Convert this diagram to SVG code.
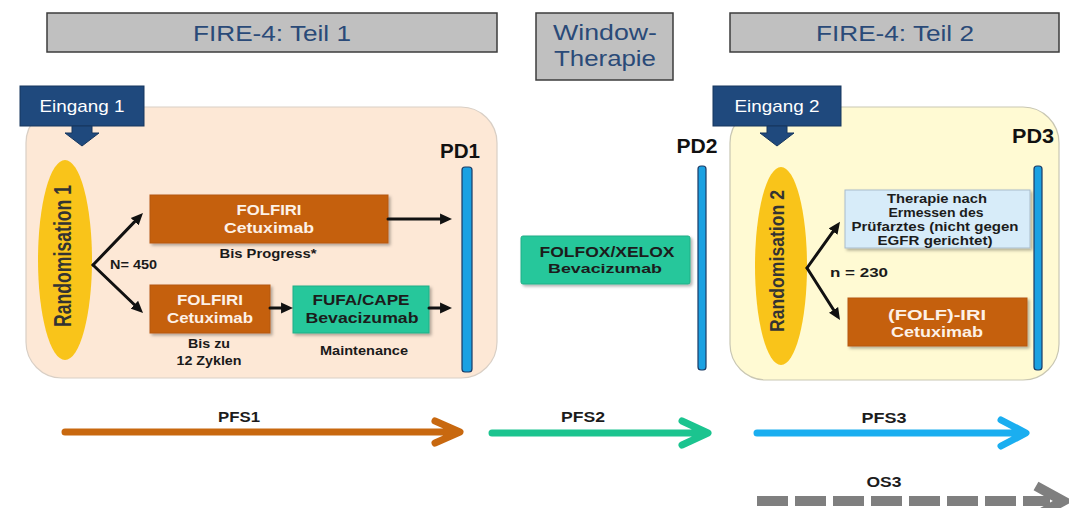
<svg xmlns="http://www.w3.org/2000/svg" width="1069" height="508" viewBox="0 0 1069 508">
<style>
text{font-family:"Liberation Sans",Arial,sans-serif;}
.hdr{fill:#c0c0c0;stroke:#3c3c3c;stroke-width:1.5;}
.hdrt{font-size:22px;fill:#2a4a78;text-anchor:middle;}
.ein{fill:#1f497d;stroke:#17375e;stroke-width:1;}
.eint{font-size:17px;fill:#ffffff;text-anchor:middle;}
.pd{font-size:20px;font-weight:bold;fill:#111;text-anchor:middle;}
.bar{fill:#1ba1e2;stroke:#1b3a64;stroke-width:1.2;}
.org{fill:#c5600f;stroke:#b55810;stroke-width:1;}
.grn{fill:#25c79b;stroke:#1fae87;stroke-width:1;}
.bw{font-size:15px;font-weight:bold;fill:#fdf1e7;text-anchor:middle;}
.bd{font-weight:bold;fill:#1c1c1c;text-anchor:middle;}
.lbl{font-size:12px;font-weight:bold;fill:#1a1a1a;}
.rnd{font-size:18px;font-weight:bold;fill:#333;text-anchor:middle;}
.ell{fill:#f9c41a;}
.conn{stroke:#111;stroke-width:3;fill:none;stroke-linecap:round;}
.pfs{fill:none;stroke-width:7;stroke-linecap:round;stroke-linejoin:round;}
</style>
<defs>
<marker id="ah" viewBox="0 0 10 10" refX="5.8" refY="5" markerWidth="12" markerHeight="12" markerUnits="userSpaceOnUse" orient="auto">
<path d="M0,0.5 L10,5 L0,9.5 z" fill="#111"/>
</marker>
<filter id="sh" x="-10%" y="-10%" width="130%" height="150%">
<feDropShadow dx="2" dy="2" stdDeviation="1.5" flood-color="#000" flood-opacity="0.3"/>
</filter>
</defs>

<g id="header1">
<rect class="hdr" x="47" y="13" width="450" height="39"/>
<text class="hdrt" x="272" y="41" textLength="158" lengthAdjust="spacingAndGlyphs">FIRE-4: Teil 1</text>
</g>
<g id="header-window">
<rect class="hdr" x="536" y="13" width="137" height="67"/>
<text class="hdrt" x="605" y="40" textLength="104" lengthAdjust="spacingAndGlyphs">Window-</text>
<text class="hdrt" x="605" y="66" textLength="102" lengthAdjust="spacingAndGlyphs">Therapie</text>
</g>
<g id="header2">
<rect class="hdr" x="730" y="13" width="329" height="39"/>
<text class="hdrt" x="895" y="41" textLength="158" lengthAdjust="spacingAndGlyphs">FIRE-4: Teil 2</text>
</g>

<g id="panel1">
<rect x="26" y="107" width="471" height="271" rx="36" fill="#fde8d6" stroke="#d9cfc5" stroke-width="1.2"/>
</g>
<g id="panel2">
<rect x="730" y="107" width="329" height="273" rx="36" fill="#fffad3" stroke="#c9c7b3" stroke-width="1.2"/>
</g>

<g id="eingang1">
<rect class="ein" x="20" y="86" width="124" height="40"/>
<path class="ein" d="M72,126 H92 V133 H99 L82,146 L65,133 H72 Z"/>
<text class="eint" x="82" y="112" textLength="85" lengthAdjust="spacingAndGlyphs">Eingang 1</text>
</g>
<g id="eingang2">
<rect class="ein" x="713" y="86" width="128" height="40"/>
<path class="ein" d="M767,126 H787 V133 H794 L777,146 L760,133 H767 Z"/>
<text class="eint" x="777" y="112" textLength="85" lengthAdjust="spacingAndGlyphs">Eingang 2</text>
</g>

<g id="random1">
<ellipse class="ell" cx="65" cy="260" rx="27" ry="100"/>
<text class="rnd" transform="translate(71,256) rotate(-90) scale(1,1.3)" x="0" y="0" textLength="142" lengthAdjust="spacingAndGlyphs">Randomisation 1</text>
</g>
<g id="random2">
<ellipse class="ell" cx="781" cy="266" rx="26" ry="99"/>
<text class="rnd" transform="translate(784,261) rotate(-90) scale(1,1.15)" x="0" y="0" textLength="142" lengthAdjust="spacingAndGlyphs">Randomisation 2</text>
</g>

<g id="folfiri-top">
<rect class="org" x="150" y="195" width="238" height="48" filter="url(#sh)"/>
<text class="bw" x="269" y="215" textLength="65" lengthAdjust="spacingAndGlyphs">FOLFIRI</text>
<text class="bw" x="269" y="233" textLength="90" lengthAdjust="spacingAndGlyphs">Cetuximab</text>
</g>
<g id="folfiri-bottom">
<rect class="org" x="150" y="285" width="120" height="48" filter="url(#sh)"/>
<text class="bw" x="210" y="305" textLength="66" lengthAdjust="spacingAndGlyphs">FOLFIRI</text>
<text class="bw" x="210" y="323" textLength="86" lengthAdjust="spacingAndGlyphs">Cetuximab</text>
</g>
<g id="fufa">
<rect class="grn" x="293" y="286" width="136" height="47" filter="url(#sh)"/>
<text class="bd" font-size="15" x="361" y="305" textLength="97" lengthAdjust="spacingAndGlyphs">FUFA/CAPE</text>
<text class="bd" font-size="15" x="362" y="323" textLength="113" lengthAdjust="spacingAndGlyphs">Bevacizumab</text>
</g>
<g id="folfox">
<rect class="grn" x="521" y="236" width="169" height="48" rx="2" filter="url(#sh)"/>
<text class="bd" font-size="15" x="607" y="257" textLength="135" lengthAdjust="spacingAndGlyphs">FOLFOX/XELOX</text>
<text class="bd" font-size="12" x="605" y="273" textLength="114" lengthAdjust="spacingAndGlyphs">Bevacizumab</text>
</g>
<g id="therapie-pruefarzt">
<rect x="845" y="190" width="185" height="58" fill="#d7ecf9" stroke="#a9bccb" stroke-width="1" filter="url(#sh)"/>
<text class="bd" font-size="13" x="937" y="203" textLength="100" lengthAdjust="spacingAndGlyphs">Therapie nach</text>
<text class="bd" font-size="13" x="936" y="217" textLength="95" lengthAdjust="spacingAndGlyphs">Ermessen des</text>
<text class="bd" font-size="13" x="935" y="231" textLength="167" lengthAdjust="spacingAndGlyphs">Prüfarztes (nicht gegen</text>
<text class="bd" font-size="13" x="935" y="245" textLength="115" lengthAdjust="spacingAndGlyphs">EGFR gerichtet)</text>
</g>
<g id="folf-iri">
<rect class="org" x="848" y="298" width="179" height="48" filter="url(#sh)"/>
<text class="bw" x="937" y="320" textLength="98" lengthAdjust="spacingAndGlyphs">(FOLF)-IRI</text>
<text class="bw" x="937" y="337" textLength="92" lengthAdjust="spacingAndGlyphs">Cetuximab</text>
</g>

<g id="labels">
<text class="lbl" x="110" y="269" textLength="47" lengthAdjust="spacingAndGlyphs">N= 450</text>
<text class="lbl" x="268" y="258" text-anchor="middle" textLength="97" lengthAdjust="spacingAndGlyphs">Bis Progress*</text>
<text class="lbl" x="209" y="348" text-anchor="middle" textLength="42" lengthAdjust="spacingAndGlyphs">Bis zu</text>
<text class="lbl" x="209" y="365" text-anchor="middle" textLength="65" lengthAdjust="spacingAndGlyphs">12 Zyklen</text>
<text class="lbl" x="364" y="355" text-anchor="middle" textLength="88" lengthAdjust="spacingAndGlyphs">Maintenance</text>
<text class="lbl" x="830" y="277" textLength="58" lengthAdjust="spacingAndGlyphs">n = 230</text>
</g>

<g id="pd1">
<rect class="bar" x="462" y="167" width="10" height="205" rx="3"/>
<text class="pd" x="460" y="158" textLength="40" lengthAdjust="spacingAndGlyphs">PD1</text>
</g>
<g id="pd2">
<rect class="bar" x="698" y="166" width="8" height="204" rx="3"/>
<text class="pd" x="697" y="153" textLength="41" lengthAdjust="spacingAndGlyphs">PD2</text>
</g>
<g id="pd3">
<rect class="bar" x="1034" y="166" width="8" height="204" rx="3"/>
<text class="pd" x="1033" y="143" textLength="42" lengthAdjust="spacingAndGlyphs">PD3</text>
</g>

<g id="connectors">
<path class="conn" d="M93,265 L139.5,216.6" marker-end="url(#ah)"/>
<path class="conn" d="M93,265 L139.4,309.5" marker-end="url(#ah)"/>
<path class="conn" d="M388,219 H447" marker-end="url(#ah)"/>
<path class="conn" d="M270,308 H288" marker-end="url(#ah)"/>
<path class="conn" d="M429,308 H447" marker-end="url(#ah)"/>
<path class="conn" d="M807,268 L837.1,225.9" marker-end="url(#ah)"/>
<path class="conn" d="M807,268 L837.3,315.8" marker-end="url(#ah)"/>
</g>

<g id="timeline">
<path class="pfs" stroke="#c8680f" d="M65,432 H458 M435,421 L460,432 L435,443"/>
<text class="bd" font-size="14" x="239" y="422" textLength="42" lengthAdjust="spacingAndGlyphs">PFS1</text>
<path class="pfs" stroke="#1bc48f" d="M492,433 H706 M682,421 L708,433 L682,445"/>
<text class="bd" font-size="14" x="583" y="422" textLength="44" lengthAdjust="spacingAndGlyphs">PFS2</text>
<path class="pfs" stroke="#1aaef0" d="M757,433 H1024 M1001,420 L1026,433 L1001,446"/>
<text class="bd" font-size="14" x="884" y="423" textLength="45" lengthAdjust="spacingAndGlyphs">PFS3</text>
<path fill="none" stroke="#7f7f7f" stroke-width="10" stroke-dasharray="31 7" d="M757,501 H1050"/>
<path fill="none" stroke="#7f7f7f" stroke-width="10" stroke-linejoin="miter" d="M1036,486 L1063,501 L1036,516"/>
<text class="bd" font-size="14" x="884" y="487" textLength="35" lengthAdjust="spacingAndGlyphs">OS3</text>
</g>
</svg>
